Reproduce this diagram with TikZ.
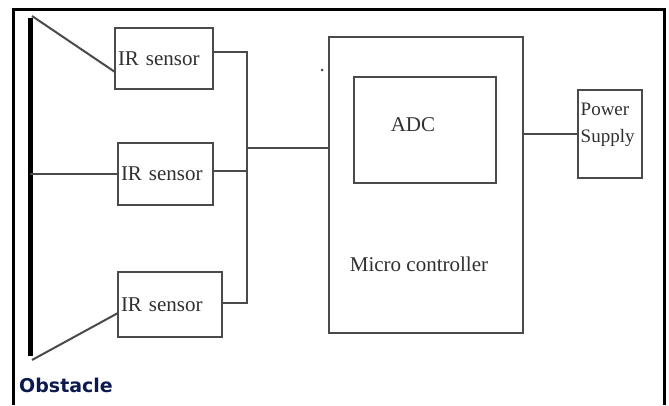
\documentclass[tikz,border=0pt]{standalone}
\usepackage{fontspec}
\setmainfont{Liberation Serif}
\newfontfamily\obsfont{DejaVu Sans}
\usetikzlibrary{calc}
\definecolor{ln}{HTML}{4A4A4A}
\definecolor{txt}{HTML}{303030}
\definecolor{navy}{HTML}{0D1A50}
\begin{document}
\begin{tikzpicture}[x=1pt,y=-1pt,
  conn/.style={draw=ln,line width=2pt},
  blk/.style={draw=ln,line width=2pt,rectangle,inner sep=0pt,outer sep=0pt},
  sensorbox/.style={blk,align=left,inner xsep=3pt,inner ysep=0pt,font=\fontsize{21}{24}\selectfont,text=txt},
  lbl/.style={font=\fontsize{21}{24}\selectfont,text=txt,inner sep=0pt}]
\useasboundingbox (0,0) rectangle (669,405);
\fill[white] (0,0) rectangle (669,405);
% outer frame
\draw[line width=3pt,line join=miter] (13.5,405) -- (13.5,9.5) -- (664.5,9.5) -- (664.5,405);
% obstacle bar
\coordinate (btop) at (30,18);
\coordinate (bbot) at (30,356);
\draw[line width=5pt] (btop) -- (bbot);
% sensors
\node[sensorbox,minimum height=61pt,text width=92pt] (s1) at (164,58.5) {IR sensor\\[3pt]};
\node[sensorbox,minimum height=62pt,text width=89pt] (s2) at (165.5,174) {IR sensor\\[2pt]};
\node[sensorbox,minimum height=65pt,text width=98pt] (s3) at (170,304.5) {IR sensor\\[2pt]};
% micro controller and adc
\node[blk,minimum width=194pt,minimum height=296pt] (mc) at (426,185) {};
\node[blk,minimum width=142pt,minimum height=106pt] (adc) at (425,130) {};
\node[lbl] (adct) at (413,125) {ADC};
\node[lbl] (mct) at (419,264) {Micro controller};
\fill[ln] (322,70) circle (1.5pt);
% power supply
\node[blk,minimum width=64pt,minimum height=88pt] (ps) at (610,134) {};
\node[anchor=north west,inner sep=0pt,align=left,text=txt,font=\fontsize{19}{27}\selectfont] (pst) at (580.5,103) {Power\\Supply};
% obstacle label
\node[anchor=west,inner sep=0pt,text=navy,font=\obsfont\bfseries\fontsize{19}{21}\selectfont] (obs) at (19,385) {Obstacle};
% connectors from bar to sensors
\draw[conn] ([xshift=2pt,yshift=2pt]btop) -- ([yshift=-13.5pt]s1.west);
\draw[conn] (s2.west -| bbot) -- (s2.west);
\draw[conn] ([xshift=2pt,yshift=-4pt]bbot) -- ([yshift=-8.5pt]s3.west);
% bus
\coordinate (bus1) at (247,52);
\coordinate (bus3) at (247,303);
\coordinate (bus2) at (247,148);
\coordinate (s2e) at ([yshift=3pt]s2.east);
\draw[conn] ([yshift=6.5pt]s1.east) -- (bus1) -- (bus3) -- (bus3 -| s3.east);
\draw[conn] (s2e) -- (s2e -| bus1);
\draw[conn] (bus2) -- (bus2 -| mc.west);
\draw[conn] (mc.east |- ps.west) -- (ps.west);
\end{tikzpicture}
\end{document}
